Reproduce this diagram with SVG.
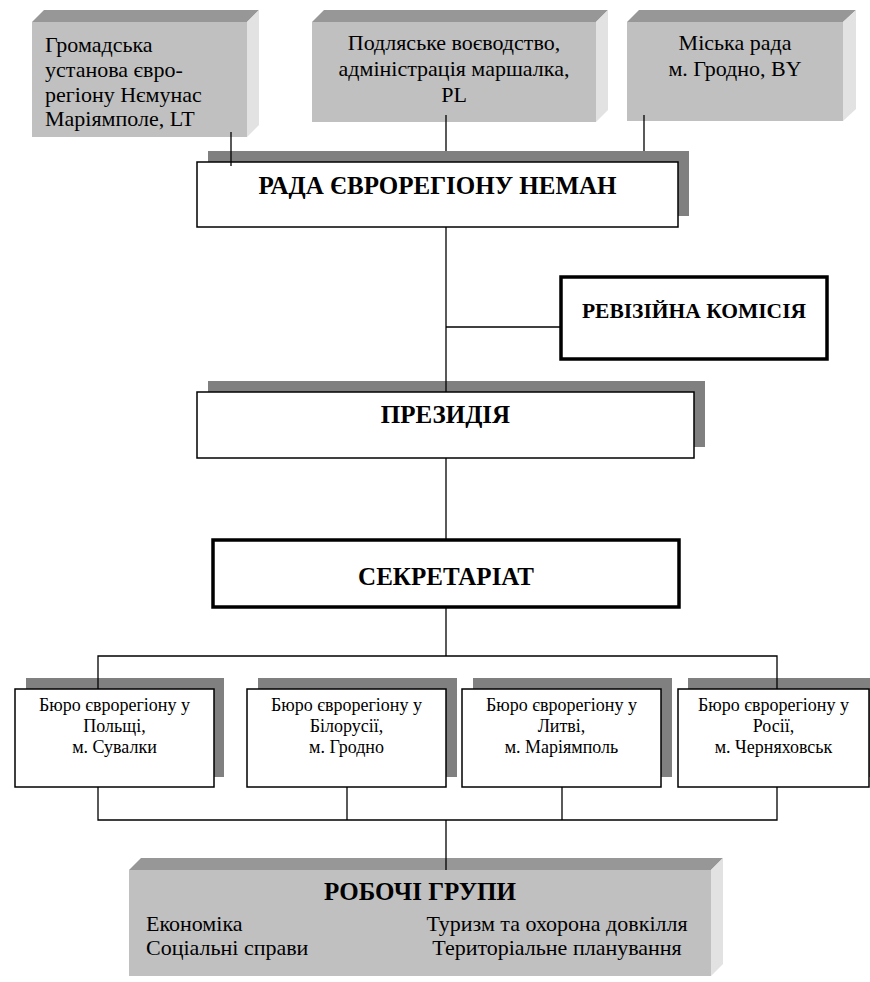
<svg xmlns="http://www.w3.org/2000/svg" width="870" height="982" viewBox="0 0 870 982">
<style>
.face{fill:#c0c0c0}
.top{fill:#979797}
.side{fill:#e2e2e2}
.shadow{fill:#808080}
.box{fill:#fff;stroke:#000;stroke-width:1.5}
.thick{fill:#fff;stroke:#000;stroke-width:3.5}
.conn{stroke:#000;stroke-width:1.3;fill:none}
text{font-family:"Liberation Serif","Times New Roman",serif;font-size:22px;fill:#000}
.h{font-weight:bold;font-size:25px}
.h2{font-weight:bold;font-size:21.5px}
.s{font-size:18px}
.m{text-anchor:middle}
</style>
<rect width="870" height="982" fill="#fff"/>
<g id="node-gromadska">
<polygon class="top" points="32,22 44,10 259,10 247,22"/>
<polygon class="side" points="247,22 259,10 259,125 247,137"/>
<rect class="face" x="32" y="22" width="215" height="115"/>
<text x="45" y="52">Громадська</text>
<text x="45" y="77">установа євро-</text>
<text x="45" y="101.5">регіону Нємунас</text>
<text x="45" y="126">Маріямполе, LT</text>
</g>
<g id="node-podlaske">
<polygon class="top" points="312,22 324,10 608,10 596,22"/>
<polygon class="side" points="596,22 608,10 608,110 596,122"/>
<rect class="face" x="312" y="22" width="284" height="100"/>
<text class="m" x="454" y="50">Подляське воєводство,</text>
<text class="m" x="454" y="76">адміністрація маршалка,</text>
<text class="m" x="454" y="102">PL</text>
</g>
<g id="node-miska">
<polygon class="top" points="627,22 639,10 856,10 843,22"/>
<polygon class="side" points="843,22 856,10 856,109 843,121"/>
<rect class="face" x="627" y="22" width="216" height="99"/>
<text class="m" x="735" y="50">Міська рада</text>
<text class="m" x="735" y="76">м. Гродно, BY</text>
</g>
<g id="node-rada">
<rect class="shadow" x="208" y="151" width="481" height="65"/>
<rect class="box" x="197" y="162" width="481" height="65"/>
<text class="h m" x="437.5" y="194">РАДА ЄВРОРЕГІОНУ НЕМАН</text>
</g>
<g id="node-revizijna">
<rect class="thick" x="561" y="277" width="266" height="82"/>
<text class="h2 m" x="694" y="318">РЕВІЗІЙНА КОМІСІЯ</text>
</g>
<g id="node-prezydiia">
<rect class="shadow" x="208" y="381" width="497" height="66"/>
<rect class="box" x="197" y="392" width="497" height="66"/>
<text class="h m" x="445.5" y="423">ПРЕЗИДІЯ</text>
</g>
<g id="node-sekretariat">
<rect class="thick" x="213" y="540" width="466" height="67"/>
<text class="h m" x="446" y="585">СЕКРЕТАРІАТ</text>
</g>
<g id="node-biuro-pl">
<rect class="shadow" x="26" y="678" width="198" height="99"/>
<rect class="box" x="15" y="689" width="199" height="98"/>
<text class="s m" x="114.5" y="711">Бюро єврорегіону у</text>
<text class="s m" x="114.5" y="732">Польщі,</text>
<text class="s m" x="114.5" y="753">м. Сувалки</text>
</g>
<g id="node-biuro-by">
<rect class="shadow" x="258" y="678" width="199" height="99"/>
<rect class="box" x="247" y="689" width="199" height="98"/>
<text class="s m" x="346.5" y="711">Бюро єврорегіону у</text>
<text class="s m" x="346.5" y="732">Білорусії,</text>
<text class="s m" x="346.5" y="753">м. Гродно</text>
</g>
<g id="node-biuro-lt">
<rect class="shadow" x="473" y="678" width="199" height="99"/>
<rect class="box" x="462" y="689" width="199" height="98"/>
<text class="s m" x="561.5" y="711">Бюро єврорегіону у</text>
<text class="s m" x="561.5" y="732">Литві,</text>
<text class="s m" x="561.5" y="753">м. Маріямполь</text>
</g>
<g id="node-biuro-ru">
<rect class="shadow" x="688" y="678" width="199" height="99"/>
<rect class="box" x="678" y="689" width="191" height="98"/>
<text class="s m" x="773.5" y="711">Бюро єврорегіону у</text>
<text class="s m" x="773.5" y="732">Росії,</text>
<text class="s m" x="773.5" y="753">м. Черняховськ</text>
</g>
<g id="node-robochi">
<polygon class="top" points="129,870 141,858 723,858 711,870"/>
<polygon class="side" points="711,870 723,858 723,964 711,976"/>
<rect class="face" x="129" y="870" width="582" height="106"/>
<text class="h m" x="420" y="900">РОБОЧІ ГРУПИ</text>
<text x="146" y="931">Економіка</text>
<text x="146" y="955">Соціальні справи</text>
<text class="m" x="557" y="931">Туризм та охорона довкілля</text>
<text class="m" x="557" y="955">Територіальне планування</text>
</g>
<g id="connectors" class="conn">
<line x1="231" y1="132" x2="231" y2="166"/>
<line x1="446" y1="115" x2="446" y2="151"/>
<line x1="644" y1="115" x2="644" y2="151"/>
<line x1="446" y1="227" x2="446" y2="392"/>
<line x1="446" y1="327" x2="561" y2="327"/>
<line x1="446" y1="458" x2="446" y2="540"/>
<line x1="446" y1="607" x2="446" y2="656"/>
<polyline points="98,689 98,656 777,656 777,689"/>
<polyline points="98,787 98,820 777,820 777,787"/>
<line x1="347" y1="787" x2="347" y2="820"/>
<line x1="562" y1="787" x2="562" y2="820"/>
<line x1="446" y1="820" x2="446" y2="870"/>
</g>
</svg>
